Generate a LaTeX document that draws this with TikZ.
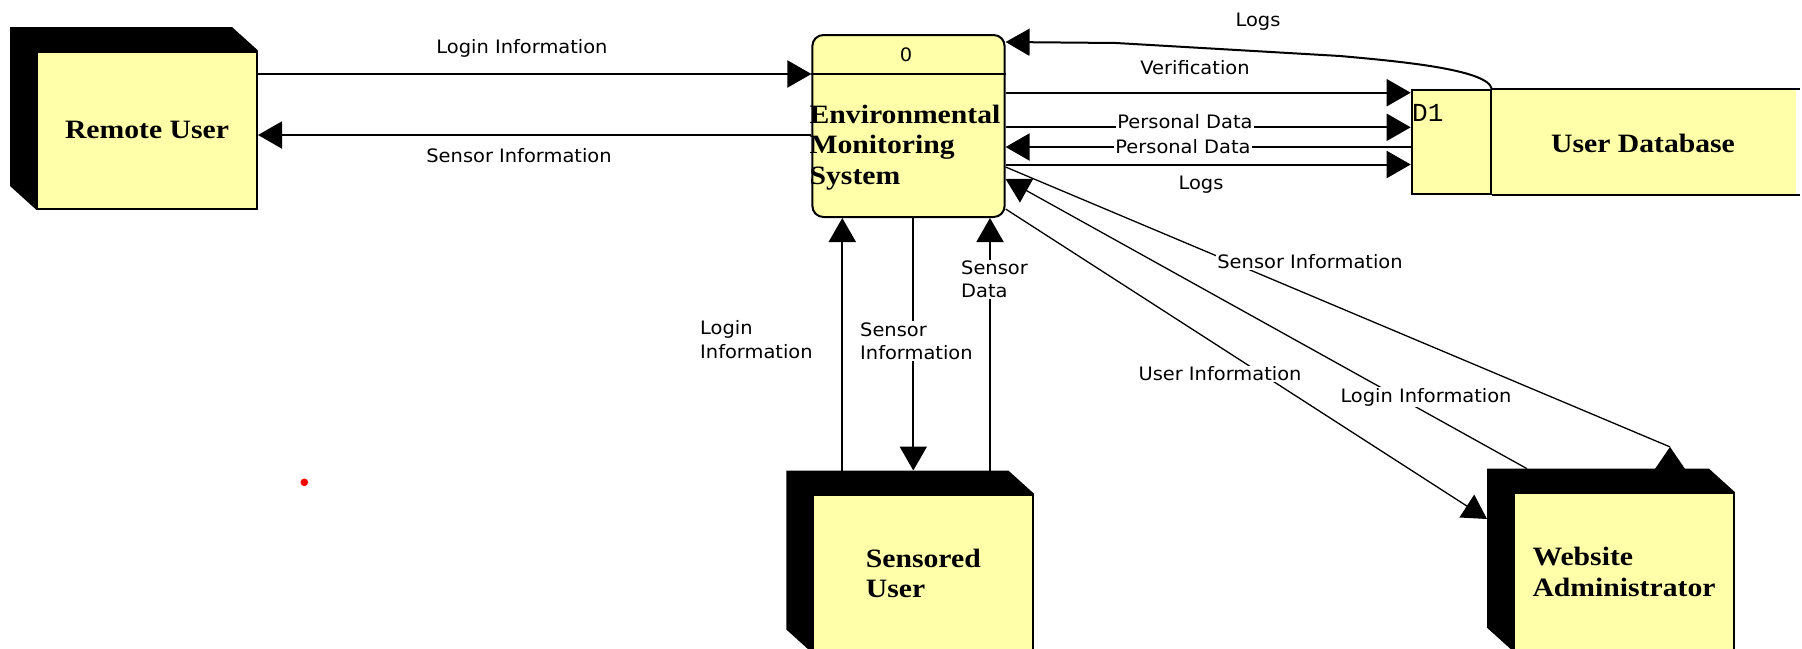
\documentclass[tikz,border=0pt]{standalone}
\usepackage{fontspec}
\newfontfamily\labelfont[FakeStretch=1.05]{DejaVu Sans}
\newfontfamily\facefont[FakeStretch=1.12]{Liberation Serif}
\newfontfamily\storefont{Liberation Mono}
\usetikzlibrary{arrows.meta,backgrounds}
\definecolor{paleyellow}{RGB}{255,255,170}
\tikzset{
  entity/.style={shape=rectangle, draw=black, line width=2pt, fill=paleyellow, minimum width=220pt, minimum height=157pt, align=left, font=\facefont\bfseries\fontsize{26.5}{30.5}\selectfont},
  facetext/.style={inner sep=0pt, align=left, font=\facefont\bfseries\fontsize{26.5}{30.5}\selectfont},
  flowlabel/.style={inner sep=1pt, align=left, font=\labelfont\fontsize{18.5}{23.3}\selectfont},
  cutlabel/.style={flowlabel, fill=white},
  dataflow/.style={line width=2pt, -{Triangle[length=24pt,width=27pt]}},
  diagflow/.style={line width=1.3pt, -{Triangle[length=24pt,width=27pt]}},
}
\begin{document}
\begin{tikzpicture}[x=1pt, y=-1pt]
\useasboundingbox (0,0) rectangle (1802,648);
% external entities
\node[entity] (ru) at (147,130) {Remote User};
\node[entity] (su) at (923.3,573.5) {Sensored\\User};
\node[entity] (wa) at (1624,571.7) {Website\\Administrator};
\coordinate (sutop) at ([shift={(0,-23.5)}]su.north);
\coordinate (watop) at ([shift={(0,-23.5)}]wa.north);
\coordinate (waleft) at ([shift={(-26,0)}]wa.west);
\coordinate (watip) at ([shift={(46,-45.3)}]wa.north);
% process 0
\node[shape=rectangle, rounded corners=11pt, draw=black, line width=2pt, fill=paleyellow, minimum width=192.2pt, minimum height=182pt] (ems) at (908.5,126) {};
\draw[line width=2pt] (ems.west |- 0,74) -- (ems.east |- 0,74);
\node[flowlabel] (emsid) at (906,55) {0};
\node[facetext] (emsname) at (905,147.5) {Environmental\\Monitoring\\System};
% data store D1
\node[shape=rectangle, draw=black, line width=2pt, fill=paleyellow, minimum width=79pt, minimum height=104pt] (d1) at (1451.2,142) {};
\coordinate (dbend) at (1800,142);
\draw[line width=2pt] (d1.north east) -- (dbend |- d1.north) (d1.south east) -- (dbend |- d1.south);
\node[inner sep=0pt, anchor=west, font=\storefont\fontsize{26}{30}\selectfont] (d1id) at (1412,113) {D1};
\node[facetext] (dbname) at (1643,143.3) {User Database};
% flows between remote user and process
\draw[dataflow] (ru.east |- 0,74) -- (ems.west |- 0,74);
\draw[dataflow] (ems.west |- 0,135) -- (ru.east |- 0,135);
\node[flowlabel] (loginru) at (522,48) {Login Information};
\node[flowlabel] (sensorru) at (519,156) {Sensor Information};
% flows between process and data store
\draw[dataflow] (ems.east |- 0,92.7) -- (d1.west |- 0,92.7);
\draw[dataflow] (ems.east |- 0,127.3) -- (d1.west |- 0,127.3);
\draw[dataflow] (d1.west |- 0,147) -- (ems.east |- 0,147);
\draw[dataflow] (ems.east |- 0,164.5) -- (d1.west |- 0,164.5);
\draw[dataflow] (d1.north east) .. controls +(-3,-20) and +(55,5) .. (1340,56) -- (1116,43) -- (ems.east |- 0,42);
\node[flowlabel] (logsin) at (1258,22) {Logs};
\node[flowlabel] (verif) at (1195,67.5) {Verification};
\node[cutlabel] (pdout) at (1185,121.5) {Personal Data};
\node[cutlabel] (pdin) at (1183,146.5) {Personal Data};
\node[flowlabel] (logsout) at (1201,184.5) {Logs};
% flows between sensored user and process
\draw[dataflow] (842.3,0 |- sutop) -- (842.3,0 |- ems.south);
\draw[dataflow] (913.3,0 |- ems.south) -- (913.3,0 |- sutop);
\draw[dataflow] (990,0 |- sutop) -- (990,0 |- ems.south);
\node[flowlabel, anchor=west] (loginsu) at (699,339.5) {Login\\Information};
\node[cutlabel, anchor=west] (sensorsu) at (859,341) {Sensor\\Information};
\node[cutlabel, anchor=west] (datasu) at (960,279.5) {Sensor\\Data};
% flows between website administrator and process
\draw[diagflow, -] (ems.east |- 0,167) -- (watip);
\fill (watip) -- ++(15,22) -- ++(-30,0) -- cycle;
\draw[diagflow] (1527,0 |- watop) -- (ems.east |- 0,179);
\draw[diagflow] (ems.east |- 0,209) -- (waleft |- 0,519);
\node[cutlabel] (sensorwa) at (1310,262) {Sensor Information};
\node[cutlabel] (userwa) at (1220,374) {User Information};
\node[cutlabel] (loginwa) at (1426,397) {Login Information};
\fill[red] (304.3,482.3) circle (3.8);
% shadows of the entities
\begin{scope}[on background layer]
\fill[white] (0,0) rectangle (1802,648);
\foreach \e in {ru,su,wa}
  \fill[black] (\e.south west) -- ++(-26,-23.5) -- ([shift={(-26,-23.5)}]\e.north west) -- ([shift={(-26,-23.5)}]\e.north east) -- (\e.north east) -- cycle;
\fill[paleyellow] (d1.north east) rectangle ([xshift=-4pt]dbend |- d1.south);
\end{scope}
\end{tikzpicture}
\end{document}
